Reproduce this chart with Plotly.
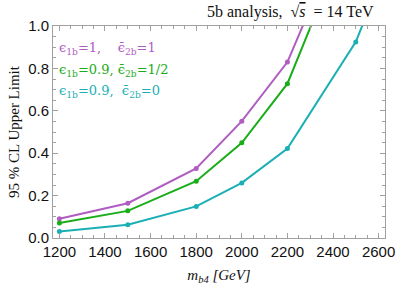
import plotly.graph_objects as go

mass = [1200, 1500, 1800, 2000, 2200, 2500]
mass_cyan = [1200, 1500, 1800, 2000, 2200, 2500, 2600]
limit_purple = [0.091, 0.164, 0.328, 0.551, 0.830, 1.59]
limit_green = [0.071, 0.128, 0.268, 0.449, 0.728, 1.52]
limit_cyan = [0.031, 0.063, 0.149, 0.260, 0.422, 0.925, 1.195]

c_purple = "#B05DC2"
c_green = "#1AAD19"
c_cyan = "#1AAFB5"

fig = go.Figure()
for xs, ys, c in [(mass, limit_purple, c_purple), (mass, limit_green, c_green), (mass_cyan, limit_cyan, c_cyan)]:
    fig.add_trace(go.Scatter(x=xs, y=ys, mode="lines+markers",
                             line=dict(color=c, width=2), marker=dict(color=c, size=5),
                             showlegend=False, cliponaxis=True))

serif = "Liberation Serif, Times New Roman, serif"
sans = "Liberation Sans, Arial, sans-serif"
frame = "#A0A0A0"

axis_common = dict(showline=True, linecolor=frame, linewidth=1, mirror="allticks",
                   ticks="inside", ticklen=5, tickcolor=frame, showgrid=False, zeroline=False,
                   tickfont=dict(family=sans, size=15, color="#111111"))

fig.update_layout(
    width=407, height=293,
    margin=dict(l=53, r=13, t=26, b=55),
    plot_bgcolor="white", paper_bgcolor="white",
    xaxis=dict(range=[1172, 2628], dtick=200, tick0=1200,
               minor=dict(dtick=50, ticks="inside", ticklen=3, tickcolor=frame),
               title=dict(text="<i>m<sub>b4</sub> [GeV]</i>", font=dict(family=serif, size=15, color="#111111"), standoff=10),
               **axis_common),
    yaxis=dict(range=[0, 1.0], dtick=0.2, tickformat=".1f",
               minor=dict(dtick=0.05, ticks="inside", ticklen=3, tickcolor=frame),
               title=dict(text="95 % CL Upper Limit", font=dict(family=serif, size=15, color="#111111"), standoff=4),
               **axis_common),
)

fig.add_annotation(xref="paper", yref="paper", x=0.974, y=1.0, yshift=14, xanchor="right", yanchor="middle",
                   text="5b analysis,  √<span style='text-decoration:overline'><i>s</i></span>  = 14 TeV",
                   showarrow=False, font=dict(family=serif, size=16, color="#111111"))

labels = [
    ("ϵ<sub>1b</sub>=1,    ϵ̄<sub>2b</sub>=1", c_purple, 0.892),
    ("ϵ<sub>1b</sub>=0.9, ϵ̄<sub>2b</sub>=1/2", c_green, 0.792),
    ("ϵ<sub>1b</sub>=0.9,  ϵ̄<sub>2b</sub>=0", c_cyan, 0.689),
]
for t, c, yy in labels:
    fig.add_annotation(xref="paper", yref="paper", x=0.012, y=yy, xanchor="left", yanchor="middle",
                       text=t, showarrow=False, font=dict(family="DejaVu Serif, serif", size=13, color=c))

fig.write_html("out.html", config={"displayModeBar": False},
               post_script="document.body.style.margin='0';")
